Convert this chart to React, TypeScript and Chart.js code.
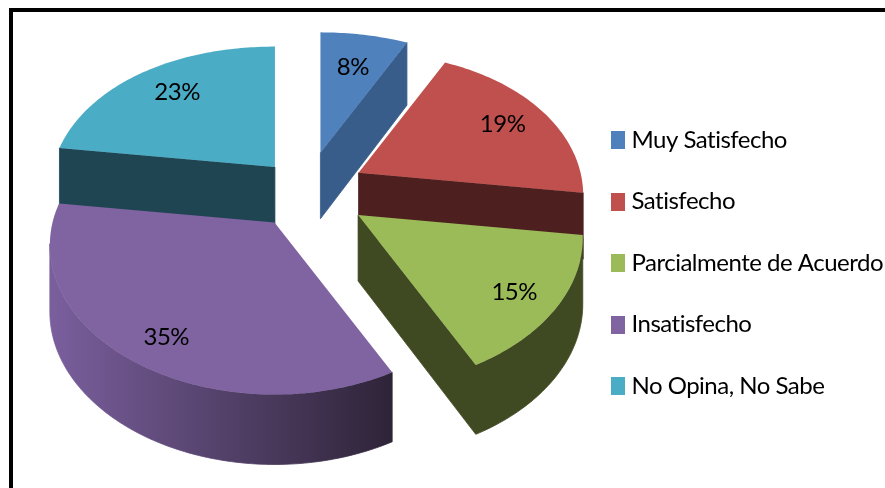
import React, { useEffect, useRef } from "react";
import { Chart, registerables } from "chart.js";

Chart.register(...registerables);

const categories = ["Muy Satisfecho", "Satisfecho", "Parcialmente de Acuerdo", "Insatisfecho", "No Opina, No Sabe"];
const values = [8, 19, 15, 35, 23];
const topColors = ["#4f81bd", "#c0504d", "#9bbb59", "#8064a2", "#4bacc6"];
const wallStart = ["#385d8a", "#4d1f1f", "#3f4a22", "#7a5f9d", "#1f4552"];
const wallEnd = ["#385d8a", "#4d1f1f", "#3f4a22", "#2e2438", "#1f4552"];
const explode = [58, 59, 63, 56, 47];
const labelFrac = [0.68, 0.78, 0.8, 0.8, 0.75];

const FONT = "Lato, sans-serif";
const FONT_SIZE = 24;
const RADIUS = 222;
const TILT = 0.7;
const APEX_TILT = 0.68;
const LIFT = -72;
const DEPTH = 66;
const LABEL_DROP = 3;

function swatch(color: string) {
  const c = document.createElement("canvas");
  c.width = 14;
  c.height = 18;
  const g = c.getContext("2d")!;
  g.fillStyle = color;
  g.fillRect(0, 0, 14, 18);
  return c;
}

const pie3d = {
  id: "pie3d",
  beforeLayout(chart: any) {
    chart.ctx.letterSpacing = "-0.5px";
  },
  beforeDatasetsDraw(chart: any) {
    const ctx: CanvasRenderingContext2D = chart.ctx;
    const meta = chart.getDatasetMeta(0);
    const slices = meta.data.map((el: any, i: number) => {
      const p = el.getProps(["x", "y", "startAngle", "endAngle", "outerRadius"], true);
      const mid = (p.startAngle + p.endAngle) / 2;
      const off = el.options.offset || 0;
      const ax = p.x + off * Math.cos(mid);
      const ay = p.y + LIFT + off * Math.sin(mid) * APEX_TILT;
      const project = (a: number, r: number, down = 0) => {
        const X = r * Math.cos(a);
        const Y = r * Math.sin(a);
        const n = Y / p.outerRadius;
        const s = 1 + 0.166 * n - 0.059 * n * n;
        return { x: ax + X * s, y: ay + Y * TILT * s + down * (1 + 0.06 * n) };
      };
      return { i, p, mid, ax, ay, project, color: el.options.backgroundColor };
    });
    slices.sort((a: any, b: any) => a.ay - b.ay);

    for (const sl of slices) {
      const { p, project, i } = sl;
      const ring: { x: number; y: number; a: number; r: number }[] = [];
      ring.push({ ...project(0, 0), a: 0, r: 0 });
      const steps = Math.max(4, Math.ceil((p.endAngle - p.startAngle) / 0.02));
      for (let k = 0; k <= steps; k++) {
        const a = p.startAngle + ((p.endAngle - p.startAngle) * k) / steps;
        ring.push({ ...project(a, p.outerRadius), a, r: p.outerRadius });
      }
      const xs = ring.map((q) => q.x);
      const grad = ctx.createLinearGradient(Math.min(...xs), 0, Math.max(...xs), 0);
      grad.addColorStop(0, wallStart[i]);
      grad.addColorStop(1, wallEnd[i]);
      ctx.fillStyle = grad;
      ctx.strokeStyle = grad;
      ctx.lineWidth = 0.8;
      const n = ring.length;
      // gather contiguous runs of edges facing the viewer, one wall path per run
      let run: typeof ring = [];
      const flush = () => {
        if (run.length > 1) {
          ctx.beginPath();
          run.forEach((q, k) => (k ? ctx.lineTo(q.x, q.y) : ctx.moveTo(q.x, q.y)));
          for (let k = run.length - 1; k >= 0; k--) {
            const b = project(run[k].a, run[k].r, DEPTH);
            ctx.lineTo(b.x, b.y);
          }
          ctx.closePath();
          ctx.fill();
          ctx.stroke();
        }
        run = [];
      };
      for (let k = 0; k < n; k++) {
        const A = ring[k];
        const B = ring[(k + 1) % n];
        if (B.x - A.x < 0) {
          if (!run.length) run.push(A);
          run.push(B);
        } else {
          flush();
        }
      }
      flush();
      ctx.beginPath();
      ring.forEach((q, k) => (k ? ctx.lineTo(q.x, q.y) : ctx.moveTo(q.x, q.y)));
      ctx.closePath();
      ctx.fillStyle = sl.color;
      ctx.fill();
    }

    ctx.fillStyle = "#000";
    ctx.font = `${FONT_SIZE}px ${FONT}`;
    ctx.textAlign = "center";
    ctx.textBaseline = "middle";
    for (const sl of slices) {
      const q = sl.project(sl.mid, sl.p.outerRadius * labelFrac[sl.i]);
      ctx.fillText(`${values[sl.i]}%`, q.x, q.y + LABEL_DROP);
    }
    return false;
  },
};

export default function App() {
  const ref = useRef<HTMLCanvasElement>(null);
  useEffect(() => {
    document.body.style.margin = "0";
    const chart = new Chart(ref.current!, {
      type: "pie",
      data: {
        labels: categories,
        datasets: [{ data: values, backgroundColor: topColors, borderWidth: 0, offset: explode, radius: RADIUS } as any],
      },
      options: {
        responsive: false,
        animation: false,
        layout: { padding: { left: 32, top: 38, right: -8, bottom: 0 } },
        plugins: {
          tooltip: { enabled: false },
          legend: {
            position: "right",
            labels: {
              usePointStyle: true,
              pointStyleWidth: 2,
              padding: 37.5,
              color: "#000",
              font: { family: FONT, size: FONT_SIZE },
              generateLabels: () =>
                categories.map((text, index) => ({
                  text,
                  index,
                  fillStyle: topColors[index],
                  strokeStyle: topColors[index],
                  lineWidth: 0,
                  hidden: false,
                  pointStyle: swatch(topColors[index]),
                })),
            },
          },
        },
      } as any,
      plugins: [pie3d as any],
    });
    return () => chart.destroy();
  }, []);
  return (
    <div style={{ position: "fixed", left: 0, top: 0, width: 885, height: 488, background: "#fff", overflow: "hidden" }}>
      <canvas ref={ref} width={885} height={488} style={{ display: "block", filter: "blur(0.4px)" }} />
      <div
        style={{
          position: "absolute",
          left: 9,
          top: 8,
          right: 0,
          bottom: 0,
          borderLeft: "4px solid #000",
          borderTop: "4px solid #000",
        }}
      />
    </div>
  );
}
